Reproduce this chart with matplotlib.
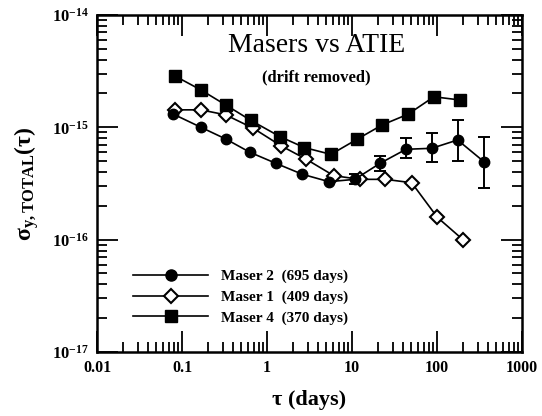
import numpy as np
import matplotlib
matplotlib.use('Agg')
import matplotlib.pyplot as plt
from matplotlib.lines import Line2D

plt.rcParams['font.family'] = ['Liberation Serif', 'DejaVu Serif']
plt.rcParams['mathtext.fontset'] = 'custom'
plt.rcParams['mathtext.rm'] = 'Liberation Serif:bold'
plt.rcParams['mathtext.it'] = 'Liberation Serif:bold'
plt.rcParams['mathtext.bf'] = 'Liberation Serif:bold'

# Maser 2 (filled circles, with error bars at long tau)
tau_m2 = [0.079, 0.167, 0.327, 0.63, 1.27, 2.6, 5.36, 10.8, 21.4, 43.2, 86.7, 175, 357]
sig_m2 = [1.31e-15, 1.0e-15, 7.87e-16, 5.99e-16, 4.78e-16, 3.82e-16, 3.28e-16,
          3.44e-16, 4.78e-16, 6.37e-16, 6.5e-16, 7.71e-16, 4.94e-16]
err_hi_m2 = [np.nan] * 7 + [3.85e-16, 5.56e-16, 7.98e-16, 8.85e-16, 1.15e-15, 8.15e-16]
err_lo_m2 = [np.nan] * 7 + [3.1e-16, 4.1e-16, 5.3e-16, 4.89e-16, 5.0e-16, 2.9e-16]

# Maser 1 (open diamonds)
tau_m1 = [0.0827, 0.167, 0.327, 0.69, 1.45, 2.9, 6.1, 12.4, 24.8, 50.4, 101, 204]
sig_m1 = [1.43e-15, 1.43e-15, 1.29e-15, 9.8e-16, 6.87e-16, 5.19e-16, 3.71e-16,
          3.44e-16, 3.44e-16, 3.21e-16, 1.58e-16, 9.93e-17]

# Maser 4 (filled squares)
tau_m4 = [0.0827, 0.167, 0.327, 0.648, 1.42, 2.75, 5.66, 11.4, 22.7, 45.9, 92, 187]
sig_m4 = [2.86e-15, 2.15e-15, 1.58e-15, 1.15e-15, 8.26e-16, 6.6e-16, 5.74e-16,
          7.8e-16, 1.05e-15, 1.31e-15, 1.87e-15, 1.75e-15]

labels = ['Maser 2  (695 days)', 'Maser 1  (409 days)', 'Maser 4  (370 days)']
xtick_vals = [0.01, 0.1, 1, 10, 100, 1000]
xtick_labels = ['0.01', '0.1', '1', '10', '100', '1000']
ytick_vals = [1e-17, 1e-16, 1e-15, 1e-14]
ytick_labels = [r'$10^{-17}$', r'$10^{-16}$', r'$10^{-15}$', r'$10^{-14}$']

fig = plt.figure(figsize=(5.42, 4.16), dpi=100)
ax = fig.add_axes([0.179, 0.154, 0.784, 0.81])

sig_m2 = np.array(sig_m2)
yerr = np.array([sig_m2 - np.array(err_lo_m2), np.array(err_hi_m2) - sig_m2])
ax.errorbar(tau_m2, sig_m2, yerr=yerr, color='black', lw=1.2, marker='o',
            ms=7.5, capsize=4.5, elinewidth=1.4, capthick=1.4)
l1, = ax.plot(tau_m1, sig_m1, color='black', lw=1.2, marker='D', ms=7.5,
              mfc='white', mec='black', mew=1.5, label=labels[1])
l4, = ax.plot(tau_m4, sig_m4, color='black', lw=1.2, marker='s', ms=8.5,
              label=labels[2])
# legend proxy for maser 2 without the error bar glyph
l2 = Line2D([], [], color='black', lw=1.2, marker='o', ms=8)

ax.set_xscale('log')
ax.set_yscale('log')
ax.set_xlim(0.01, 1000)
ax.set_ylim(1e-17, 1e-14)
ax.set_xticks(xtick_vals, xtick_labels, fontsize=11.5, fontweight='bold')
ax.set_yticks(ytick_vals, ytick_labels, fontsize=12)
ax.tick_params(which='both', direction='in', top=True, right=True, width=1.3, pad=6)
ax.tick_params(which='major', length=15)
ax.tick_params(which='minor', length=7)
for s in ax.spines.values():
    s.set_linewidth(1.8)

ax.set_xlabel('τ (days)', fontsize=16, fontweight='bold', labelpad=10)
ax.set_ylabel(r'$\mathrm{\sigma_{y,TOTAL}(\tau)}$', fontsize=17, labelpad=8)

ax.text(0.517, 0.91, 'Masers vs ATIE', transform=ax.transAxes, ha='center',
        va='center', fontsize=20)
ax.text(0.517, 0.815, '(drift removed)', transform=ax.transAxes, ha='center',
        va='center', fontsize=12, fontweight='bold')

ax.legend([l2, l1, l4], labels, loc='lower left', bbox_to_anchor=(0.085, 0.08),
          frameon=False, handlelength=4.9, handletextpad=0.85, labelspacing=0.45,
          borderpad=0, borderaxespad=0, prop={'size': 11, 'weight': 'bold'})

fig.savefig('out.png', dpi=100)
